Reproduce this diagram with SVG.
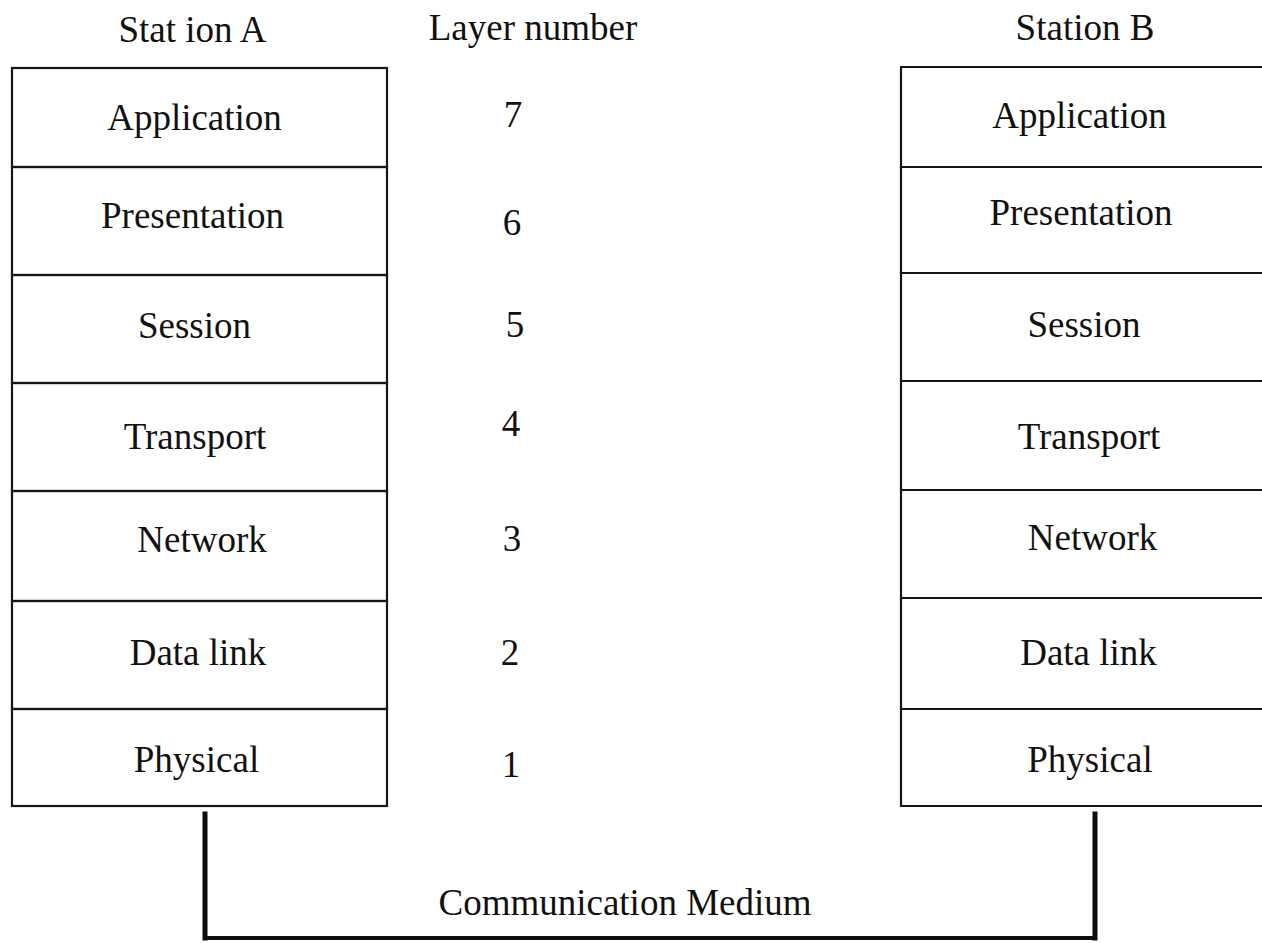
<svg xmlns="http://www.w3.org/2000/svg" width="1262" height="943" viewBox="0 0 1262 943">
  <style>
    .bg { fill: #ffffff; }
    .cell { fill: none; stroke: #151515; stroke-width: 2.2; }
    .wire { fill: none; stroke: #0d0d0d; stroke-linecap: square; stroke-linejoin: miter; }
    .lbl { font-family: "Liberation Serif", "Times New Roman", serif; font-size: 37px; fill: #111111; text-anchor: middle; }
  </style>
  <rect class="bg" x="0" y="0" width="1262" height="943"/>

  <!-- column headings -->
  <g id="heading-station-a"><text class="lbl" x="192.5" y="42">Stat ion A</text></g>
  <g id="heading-layer-number"><text class="lbl" x="533" y="40">Layer number</text></g>
  <g id="heading-station-b"><text class="lbl" x="1085" y="40">Station B</text></g>

  <!-- Station A protocol stack -->
  <g id="station-a">
    <g id="a-application"><rect class="cell" x="12" y="68" width="375" height="99"/><text class="lbl" x="194.5" y="130">Application</text></g>
    <g id="a-presentation"><rect class="cell" x="12" y="167" width="375" height="108"/><text class="lbl" x="192.5" y="228">Presentation</text></g>
    <g id="a-session"><rect class="cell" x="12" y="275" width="375" height="108"/><text class="lbl" x="194.5" y="338">Session</text></g>
    <g id="a-transport"><rect class="cell" x="12" y="383" width="375" height="108"/><text class="lbl" x="195" y="449">Transport</text></g>
    <g id="a-network"><rect class="cell" x="12" y="491" width="375" height="110"/><text class="lbl" x="202" y="552">Network</text></g>
    <g id="a-datalink"><rect class="cell" x="12" y="601" width="375" height="108"/><text class="lbl" x="198" y="665">Data link</text></g>
    <g id="a-physical"><rect class="cell" x="12" y="709" width="375" height="97"/><text class="lbl" x="196.5" y="772">Physical</text></g>
  </g>

  <!-- layer numbers -->
  <g id="layer-numbers">
    <g id="num-7"><text class="lbl" x="513" y="127">7</text></g>
    <g id="num-6"><text class="lbl" x="512" y="235">6</text></g>
    <g id="num-5"><text class="lbl" x="515" y="337">5</text></g>
    <g id="num-4"><text class="lbl" x="511" y="436">4</text></g>
    <g id="num-3"><text class="lbl" x="512" y="551">3</text></g>
    <g id="num-2"><text class="lbl" x="510" y="665">2</text></g>
    <g id="num-1"><text class="lbl" x="511" y="777">1</text></g>
  </g>

  <!-- Station B protocol stack (open on the right side) -->
  <g id="station-b">
    <g id="b-application"><path class="cell" d="M1262,67 H901 V167 H1262"/><text class="lbl" x="1079.5" y="128">Application</text></g>
    <g id="b-presentation"><path class="cell" d="M1262,167 H901 V273 H1262"/><text class="lbl" x="1081" y="225">Presentation</text></g>
    <g id="b-session"><path class="cell" d="M1262,273 H901 V381 H1262"/><text class="lbl" x="1084" y="337">Session</text></g>
    <g id="b-transport"><path class="cell" d="M1262,381 H901 V490 H1262"/><text class="lbl" x="1089" y="449">Transport</text></g>
    <g id="b-network"><path class="cell" d="M1262,490 H901 V598 H1262"/><text class="lbl" x="1092.5" y="550">Network</text></g>
    <g id="b-datalink"><path class="cell" d="M1262,598 H901 V709 H1262"/><text class="lbl" x="1088.5" y="665">Data link</text></g>
    <g id="b-physical"><path class="cell" d="M1262,709 H901 V806 H1262"/><text class="lbl" x="1090" y="772">Physical</text></g>
  </g>

  <!-- communication medium linking the two physical layers -->
  <g id="connectors">
    <path class="wire" stroke-width="5" d="M205,814 V938"/>
    <path class="wire" stroke-width="5" d="M1095,814 V938"/>
    <path class="wire" stroke-width="4" d="M205,938 H1095"/>
  </g>
  <g id="medium-label"><text class="lbl" x="625" y="915">Communication Medium</text></g>
</svg>
